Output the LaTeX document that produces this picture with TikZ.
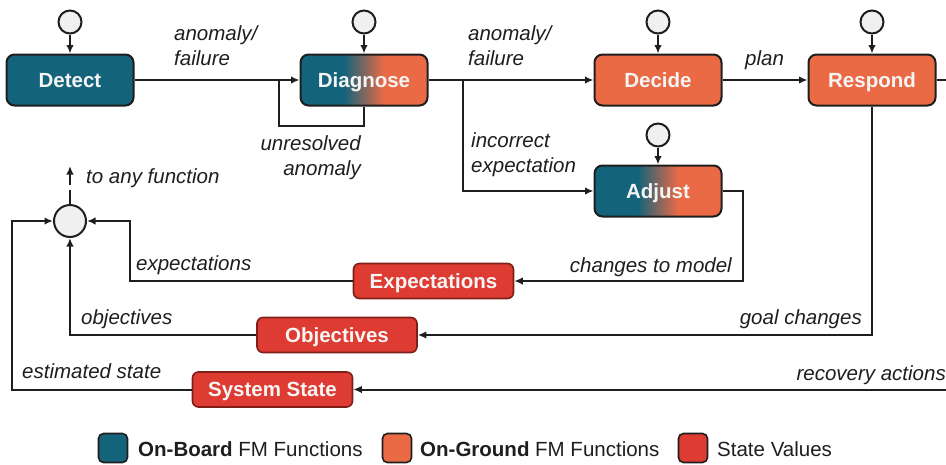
\documentclass[tikz,border=0pt]{standalone}
\usepackage{fontspec}
\setmainfont{Liberation Sans}
\usetikzlibrary{arrows.meta}

\definecolor{fmteal}{RGB}{19,99,122}
\definecolor{fmorange}{RGB}{235,106,70}
\definecolor{fmred}{RGB}{222,60,50}
\definecolor{fmline}{RGB}{30,30,30}
\definecolor{fmtext}{RGB}{245,245,245}
\definecolor{hubfill}{RGB}{240,240,240}
\definecolor{redborder}{RGB}{125,30,25}

% teal on the left, orange on the right, blended in the middle
\pgfdeclarehorizontalshading{splitfm}{100bp}{color(0bp)=(fmteal); color(42bp)=(fmteal); color(58bp)=(fmorange); color(100bp)=(fmorange)}

\newcommand\figfont{\fontsize{20.5}{24}\selectfont}

\tikzset{
  fn/.style={draw=fmline, line width=2pt, rounded corners=8pt,
    minimum width=127pt, minimum height=51pt, inner sep=0pt,
    text=fmtext, font=\bfseries\figfont, text height=14.7pt, text depth=0pt},
  onboard/.style={fn, fill=fmteal},
  onground/.style={fn, fill=fmorange},
  split/.style={fn, shading=splitfm},
  statebox/.style={draw=redborder, line width=1.6pt, fill=fmred, rounded corners=6pt,
    minimum width=160pt, minimum height=35pt, inner sep=0pt,
    text=fmtext, font=\bfseries\figfont, text height=14.7pt, text depth=0pt},
  src/.style={circle, draw=fmline, fill=hubfill, line width=2pt, minimum size=23pt, inner sep=0pt},
  hub/.style={src, minimum size=32pt},
  flow/.style={draw=fmline, line width=2pt, -{Latex[length=8.5pt,width=7.5pt]}},
  link/.style={draw=fmline, line width=2pt},
  lbl/.style={font=\itshape\figfont, text=fmline, inner sep=0pt},
  legbox/.style={draw=fmline, line width=1.6pt, rounded corners=5pt,
    minimum width=29pt, minimum height=29pt, inner sep=0pt},
  legtext/.style={font=\figfont, text=fmline, inner sep=0pt, anchor=base west}
}

\begin{document}
\begin{tikzpicture}[x=1pt, y=-1pt]
\useasboundingbox (0,0) rectangle (946,464);

% FM functions
\node[onboard]  (detect)   at (70,80)  {Detect};
\node[split]    (diagnose) at (364,80) {Diagnose};
\node[onground] (decide)   at (658,80) {Decide};
\node[onground] (respond)  at (872,80) {Respond};
\node[split]    (adjust)   at (658,191) {Adjust};

% state values
\node[statebox] (expect)   at (433.5,281) {Expectations};
\node[statebox] (object)   at (337,335)   {Objectives};
\node[statebox] (sysstate) at (272.5,389.5) {System State};

% inputs to each function
\node[src] (cdetect)   at (70,22)  {};
\node[src] (cdiagnose) at (364,22) {};
\node[src] (cdecide)   at (658,22) {};
\node[src] (crespond)  at (872,22) {};
\node[src] (cadjust)   at (658,135) {};
\node[hub] (hub)       at (70,221) {};

\draw[flow] (cdetect.south)   -- (detect.north);
\draw[flow] (cdiagnose.south) -- (diagnose.north);
\draw[flow] (cdecide.south)   -- (decide.north);
\draw[flow] (crespond.south)  -- (respond.north);
\draw[flow] (cadjust.south)   -- (adjust.north);

% main chain
\draw[flow] (detect.east) -- (diagnose.west);
\coordinate (loopB) at (364,126);
\coordinate (loopL) at (279,80);
\draw[link] (diagnose.south) -- (loopB) -| (loopL);
\draw[flow] (diagnose.east) -- (decide.west);
\coordinate (branch) at (463,80);
\draw[flow] (branch) |- (adjust.west);
\draw[flow] (decide.east) -- (respond.west);
\coordinate (outR) at (946,80);
\draw[link] (respond.east) -- (outR);

% feedback into the state values
\draw[flow] (respond.south) |- (object.east);
\coordinate (adjR) at (743,191);
\draw[flow] (adjust.east) -- (adjR) |- (expect.east);
\coordinate (inR) at (946,389.5);
\draw[flow] (inR) -- (sysstate.east);

% state values into the hub
\coordinate (expL) at (130,281);
\draw[flow] (expect.west) -- (expL) |- (hub.east);
\draw[flow] (object.west) -| (hub.south);
\coordinate (sysL) at (12,389.5);
\draw[flow] (sysstate.west) -- (sysL) |- (hub.west);
\coordinate (hubA) at (70,190);
\coordinate (hubB) at (70,185);
\coordinate (hubC) at (70,166);
\draw[link] (hub.north) -- (hubA);
\draw[flow] (hubB) -- (hubC);

% connector labels
\node[lbl, anchor=base west] (la1) at (174,40) {anomaly/};
\node[lbl, anchor=base west] (la2) at (174,65) {failure};
\node[lbl, anchor=base east] (lu1) at (361,150) {unresolved};
\node[lbl, anchor=base east] (lu2) at (361,175) {anomaly};
\node[lbl, anchor=base west] (lany) at (86,183) {to any function};
\node[lbl, anchor=base west] (lb1) at (468,40) {anomaly/};
\node[lbl, anchor=base west] (lb2) at (468,65) {failure};
\node[lbl, anchor=base west] (lplan) at (745,65) {plan};
\node[lbl, anchor=base west] (li1) at (471,147) {incorrect};
\node[lbl, anchor=base west] (li2) at (471,172) {expectation};
\node[lbl, anchor=base east] (lchg) at (732,272) {changes to model};
\node[lbl, anchor=base east] (lgoal) at (862,324) {goal changes};
\node[lbl, anchor=base east] (lrec) at (946,380) {recovery actions};
\node[lbl, anchor=base west] (lexp) at (136,270) {expectations};
\node[lbl, anchor=base west] (lobj) at (81,324) {objectives};
\node[lbl, anchor=base west] (lest) at (22,378) {estimated state};

% legend
\node[legbox, fill=fmteal]   (kon)  at (113,448) {};
\node[legtext] (ton)  at (138,456) {\textbf{On-Board} FM Functions};
\node[legbox, fill=fmorange] (kgr)  at (397,448) {};
\node[legtext] (tgr)  at (420,456) {\textbf{On-Ground} FM Functions};
\node[legbox, fill=fmred]    (kst)  at (693,448) {};
\node[legtext] (tst)  at (717,456) {State Values};
\end{tikzpicture}
\end{document}
